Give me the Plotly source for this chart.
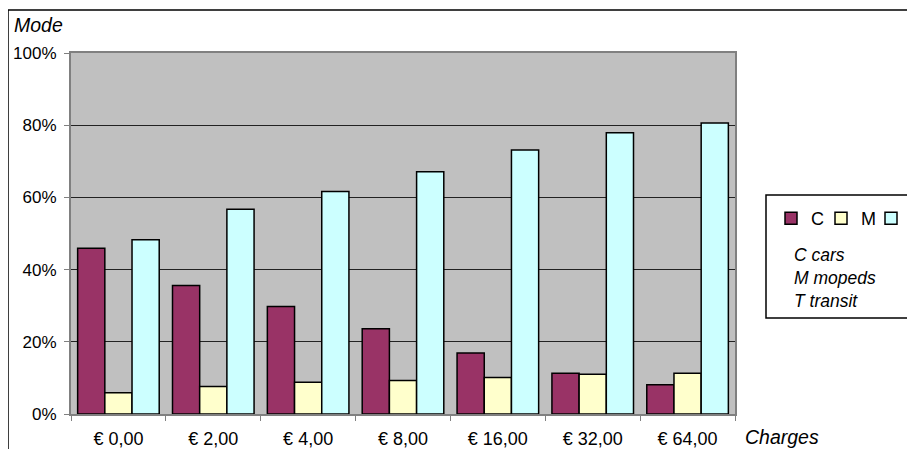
import plotly.graph_objects as go

charges = ["€ 0,00", "€ 2,00", "€ 4,00", "€ 8,00", "€ 16,00", "€ 32,00", "€ 64,00"]
cars = [45.9, 35.6, 29.8, 23.6, 16.9, 11.3, 8.1]
mopeds = [5.9, 7.6, 8.8, 9.3, 10.1, 11.0, 11.3]
transit = [48.3, 56.7, 61.6, 67.1, 73.1, 77.9, 80.6]

W, H = 940, 460
OFF = 8  # page body margin
# plot area in screen pixels
L, R, T, B = 71, 735, 53, 414


def px(x):
    return (x - L) / (R - L)


def py(y):
    return (B - y) / (B - T)


FONT = "Liberation Sans, Arial, sans-serif"

fig = go.Figure()
for name, vals, col in [("C", cars, "#993366"),
                        ("M", mopeds, "#FFFFCC"),
                        ("T", transit, "#CCFFFF")]:
    fig.add_trace(go.Bar(x=charges, y=vals, name=name,
                         marker=dict(color=col, line=dict(color="black", width=1.5))))

fig.update_layout(
    width=W, height=H,
    margin=dict(l=L - OFF, r=W - (R - OFF), t=T - OFF, b=H - (B - OFF), autoexpand=False),
    paper_bgcolor="white",
    plot_bgcolor="#C0C0C0",
    barmode="group", bargap=0.14, bargroupgap=0,
    font=dict(family=FONT, size=18, color="black"),
    legend=dict(orientation="h", x=px(771), y=py(200), xanchor="left", yanchor="top",
                bgcolor="rgba(0,0,0,0)", itemwidth=30, entrywidth=5,
                font=dict(size=18)),
)

fig.update_yaxes(range=[0, 100], dtick=20, ticksuffix="%",
                 showgrid=True, gridcolor="#222222", gridwidth=1,
                 showline=True, linecolor="#808080", linewidth=2, mirror=True,
                 ticks="outside", ticklen=5, tickcolor="#808080",
                 ticklabelstandoff=4, zeroline=False, tickfont=dict(size=17))
fig.update_xaxes(showline=True, linecolor="#808080", linewidth=2, mirror=True,
                 ticks="outside", ticklen=5, tickcolor="#808080",
                 tickson="boundaries", ticklabelstandoff=7)

# outer chart border and legend box
fig.add_shape(type="rect", xref="paper", yref="paper",
              x0=px(8), x1=px(940), y0=py(470), y1=py(10),
              line=dict(color="black", width=1.5), layer="below")
fig.add_shape(type="rect", xref="paper", yref="paper",
              x0=px(766), x1=px(940), y0=py(318), y1=py(195),
              line=dict(color="black", width=1.5), fillcolor="white", layer="below")

fig.add_annotation(text="<i>Mode</i>", xref="paper", yref="paper",
                   x=px(12), y=py(25), xanchor="left", yanchor="middle",
                   showarrow=False, font=dict(size=19.5))
fig.add_annotation(text="<i>Charges</i>", xref="paper", yref="paper",
                   x=px(743), y=py(437), xanchor="left", yanchor="middle",
                   showarrow=False, font=dict(size=19.5))
fig.add_annotation(text="<i>C cars<br>M mopeds<br>T transit</i>", xref="paper", yref="paper",
                   x=px(792), y=py(278), xanchor="left", yanchor="middle",
                   align="left", showarrow=False, font=dict(size=17.5))

fig.write_html("out.html")
